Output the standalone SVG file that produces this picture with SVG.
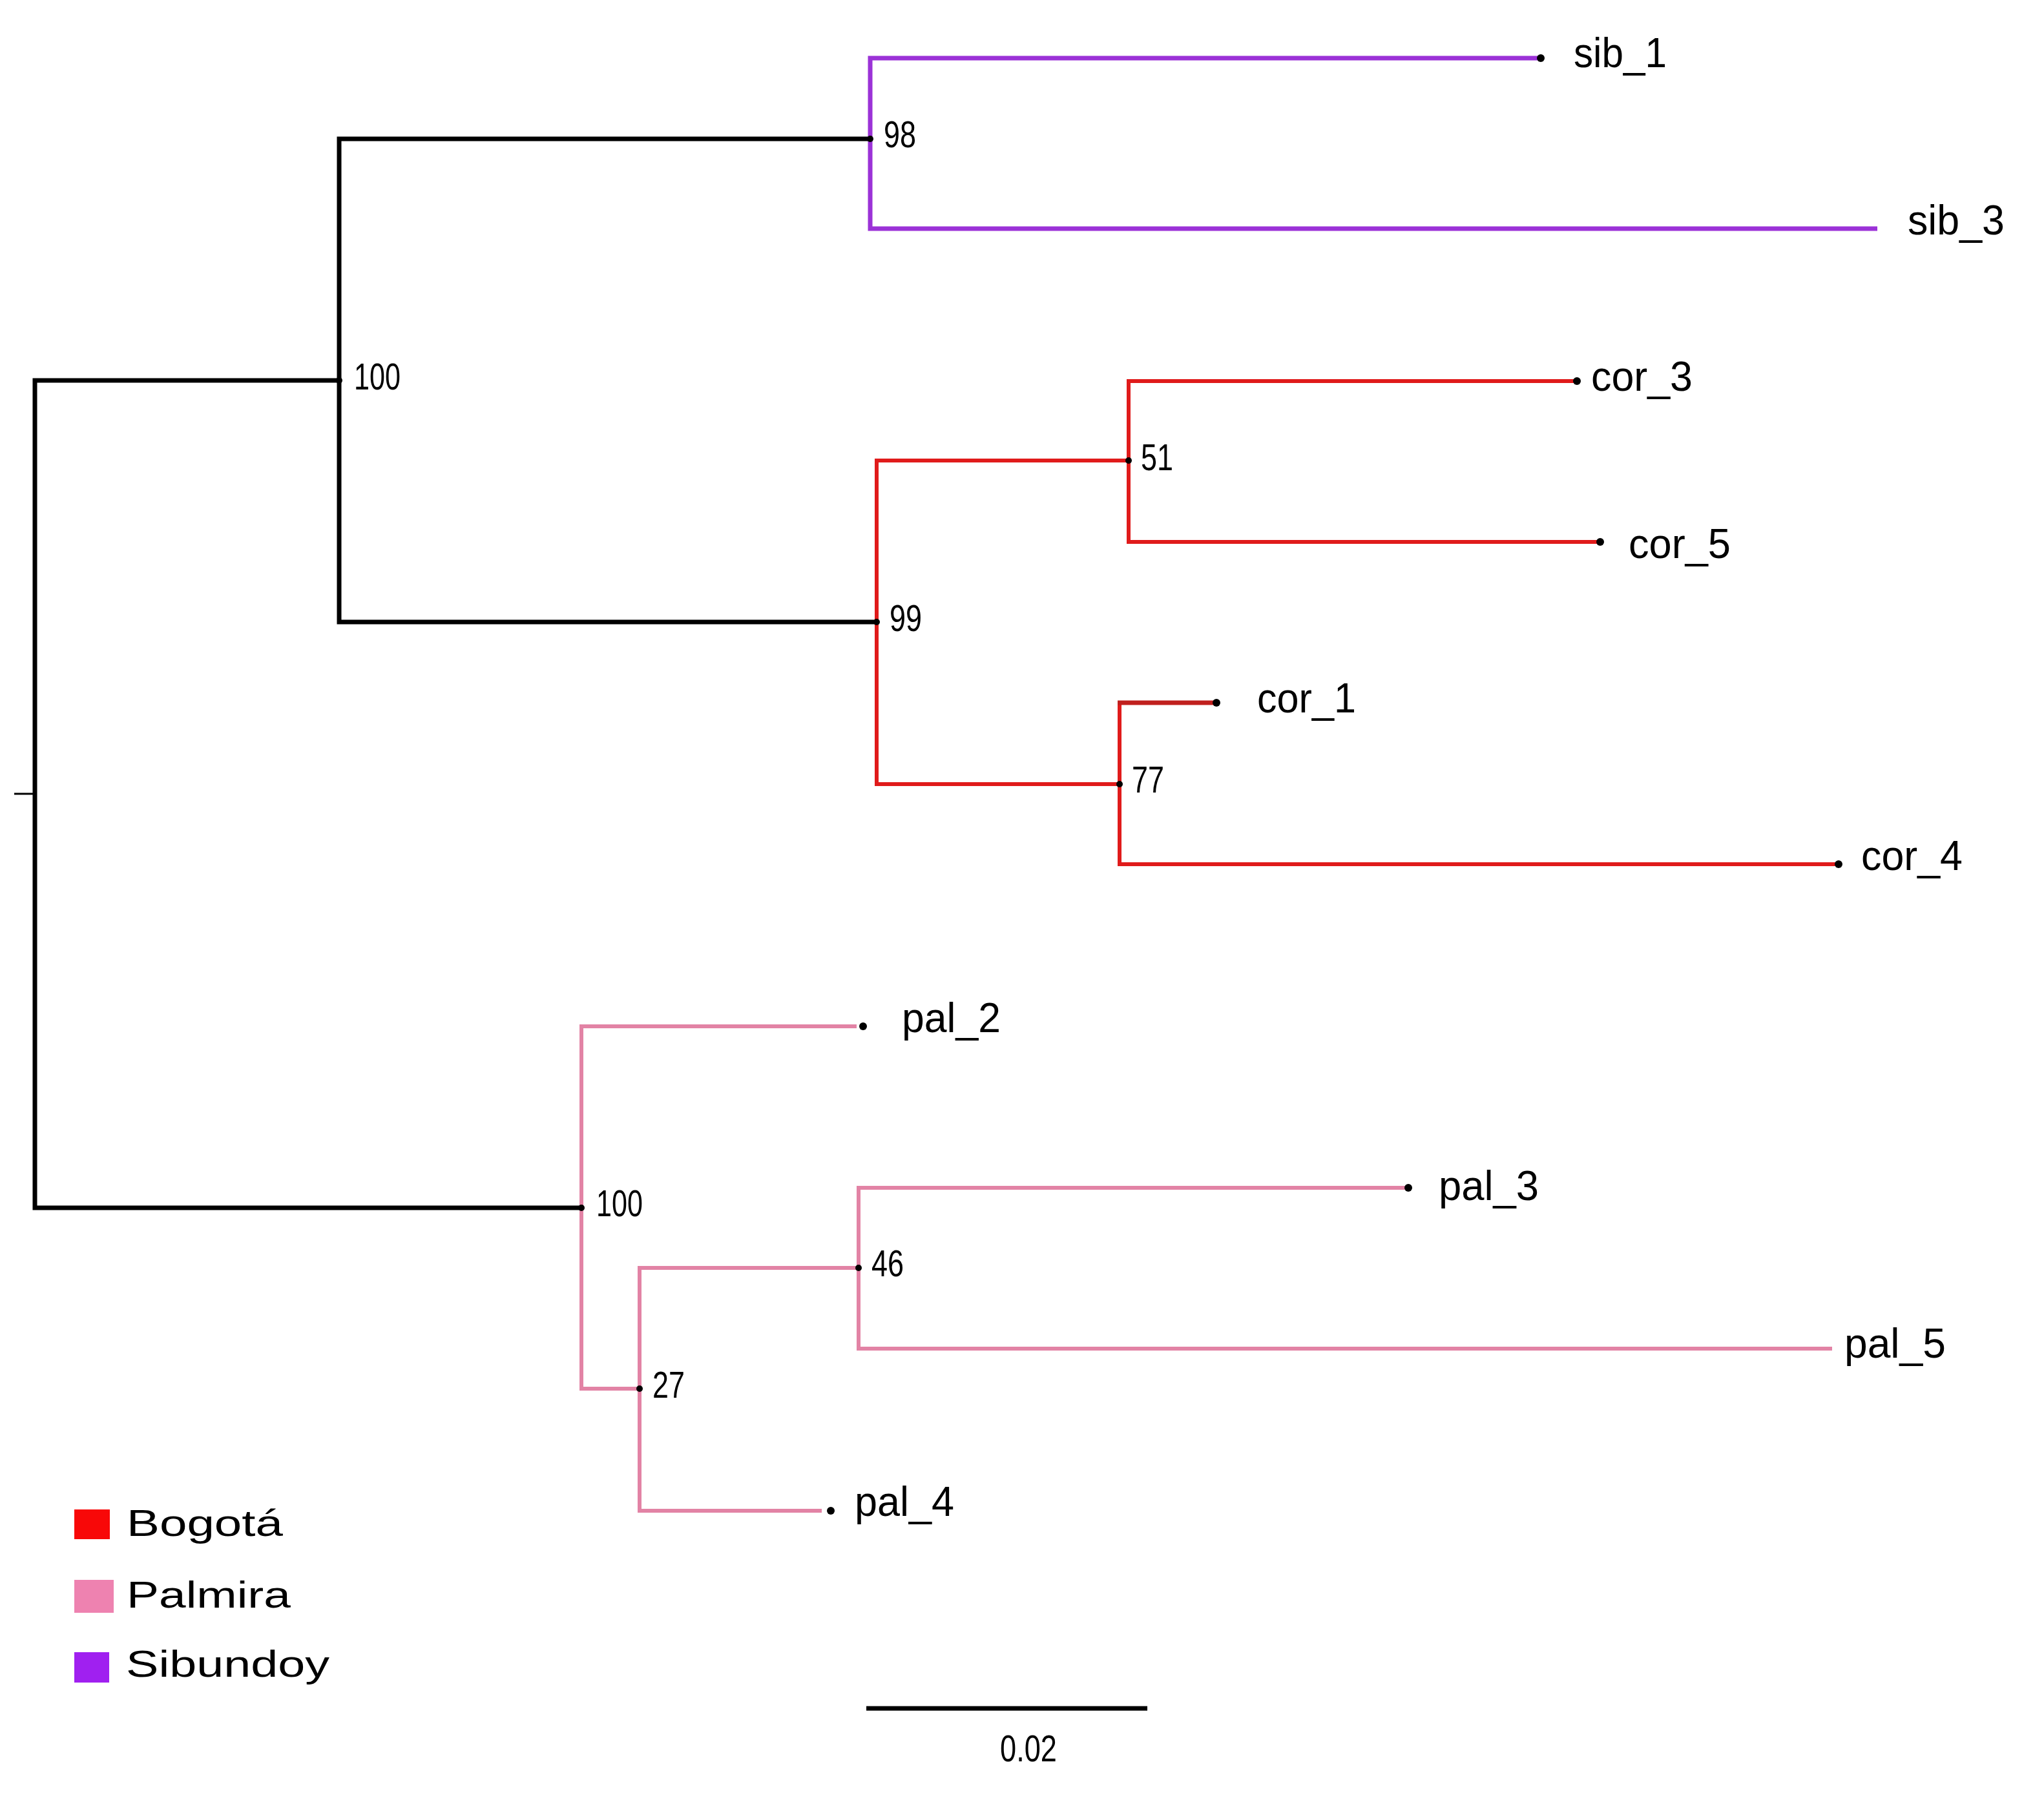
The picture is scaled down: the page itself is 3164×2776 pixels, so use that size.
<svg xmlns="http://www.w3.org/2000/svg" width="3164" height="2776" viewBox="0 0 3164 2776">
<style>
.br{fill:none;stroke-linejoin:miter;stroke-linecap:butt}
.k{stroke:#000;stroke-width:7}
.pu{stroke:#9B32D7;stroke-width:7}
.rd{stroke:#E01B1B;stroke-width:6}
.rd2{stroke:#C0201E;stroke-width:7}
.pk{stroke:#E283A5;stroke-width:6}
.dot{fill:#000}
text{font-family:"Liberation Sans",Arial,sans-serif;fill:#000}
.leaf{font-size:65px}
.sup{font-size:58px}
.leg{font-size:58px}
</style>
<rect x="0" y="0" width="3164" height="2776" fill="#fff"/>
<g id="connectors">
<path class="br" stroke="#000" stroke-width="3" d="M22 1229 H54"/>
<path class="br k" d="M525 589 H54 V1870 H900"/>
<path class="br k" d="M1347 215 H525 V963 H1357"/>
<path class="br pu" d="M2385 90 H1347 V354 H2906"/>
<path class="br rd" d="M1747 713 H1357 V1214 H1733"/>
<path class="br rd" d="M2441 590 H1747 V839 H2477"/>
<path class="br rd" d="M1733 1088 V1338 H2846"/>
<path class="br rd2" d="M1730 1088 H1883"/>
<path class="br pk" d="M1326 1589 H900 V2150 H990"/>
<path class="br pk" d="M1329 1963 H990 V2339 H1272"/>
<path class="br pk" d="M2180 1839 H1329 V2088 H2836"/>
</g>
<g id="root"><circle class="dot" cx="54" cy="1229" r="3"/></g>
<g id="node-100a"><circle class="dot" cx="525" cy="589" r="5"/><text class="sup" x="548" y="603" textLength="72" lengthAdjust="spacingAndGlyphs">100</text></g>
<g id="node-98"><circle class="dot" cx="1347" cy="215" r="5"/><text class="sup" x="1368" y="228" textLength="50" lengthAdjust="spacingAndGlyphs">98</text></g>
<g id="node-99"><circle class="dot" cx="1357" cy="963" r="5"/><text class="sup" x="1377" y="977" textLength="50" lengthAdjust="spacingAndGlyphs">99</text></g>
<g id="node-51"><circle class="dot" cx="1747" cy="713" r="5"/><text class="sup" x="1766" y="728" textLength="50" lengthAdjust="spacingAndGlyphs">51</text></g>
<g id="node-77"><circle class="dot" cx="1733" cy="1214" r="5"/><text class="sup" x="1752" y="1227" textLength="50" lengthAdjust="spacingAndGlyphs">77</text></g>
<g id="node-100b"><circle class="dot" cx="900" cy="1870" r="5"/><text class="sup" x="923" y="1883" textLength="72" lengthAdjust="spacingAndGlyphs">100</text></g>
<g id="node-46"><circle class="dot" cx="1329" cy="1963" r="5"/><text class="sup" x="1349" y="1976" textLength="50" lengthAdjust="spacingAndGlyphs">46</text></g>
<g id="node-27"><circle class="dot" cx="990" cy="2150" r="5"/><text class="sup" x="1010" y="2164" textLength="50" lengthAdjust="spacingAndGlyphs">27</text></g>
<g id="leaf-sib_1"><circle class="dot" cx="2385" cy="90" r="6"/><text class="leaf" x="2436" y="104" textLength="144" lengthAdjust="spacingAndGlyphs">sib_1</text></g>
<g id="leaf-sib_3"><text class="leaf" x="2953" y="363" textLength="150" lengthAdjust="spacingAndGlyphs">sib_3</text></g>
<g id="leaf-cor_3"><circle class="dot" cx="2441" cy="590" r="6"/><text class="leaf" x="2463" y="605" textLength="157" lengthAdjust="spacingAndGlyphs">cor_3</text></g>
<g id="leaf-cor_5"><circle class="dot" cx="2477" cy="839" r="6"/><text class="leaf" x="2521" y="864" textLength="158" lengthAdjust="spacingAndGlyphs">cor_5</text></g>
<g id="leaf-cor_1"><circle class="dot" cx="1883" cy="1088" r="6"/><text class="leaf" x="1946" y="1103" textLength="153" lengthAdjust="spacingAndGlyphs">cor_1</text></g>
<g id="leaf-cor_4"><circle class="dot" cx="2846" cy="1338" r="6"/><text class="leaf" x="2881" y="1347" textLength="157" lengthAdjust="spacingAndGlyphs">cor_4</text></g>
<g id="leaf-pal_2"><circle class="dot" cx="1336" cy="1589" r="6"/><text class="leaf" x="1396" y="1598" textLength="153" lengthAdjust="spacingAndGlyphs">pal_2</text></g>
<g id="leaf-pal_3"><circle class="dot" cx="2180" cy="1839" r="6"/><text class="leaf" x="2227" y="1858" textLength="155" lengthAdjust="spacingAndGlyphs">pal_3</text></g>
<g id="leaf-pal_5"><text class="leaf" x="2855" y="2102" textLength="157" lengthAdjust="spacingAndGlyphs">pal_5</text></g>
<g id="leaf-pal_4"><circle class="dot" cx="1286" cy="2339" r="6"/><text class="leaf" x="1323" y="2347" textLength="154" lengthAdjust="spacingAndGlyphs">pal_4</text></g>
<g id="legend">
<rect x="115" y="2337" width="55" height="46" fill="#F80808"/>
<text class="leg" x="196" y="2378" textLength="242" lengthAdjust="spacingAndGlyphs">Bogotá</text>
<rect x="115" y="2446" width="61" height="51" fill="#EE82B0"/>
<text class="leg" x="196" y="2489" textLength="254" lengthAdjust="spacingAndGlyphs">Palmira</text>
<rect x="115" y="2558" width="54" height="47" fill="#A020F0"/>
<text class="leg" x="195" y="2596" textLength="315" lengthAdjust="spacingAndGlyphs">Sibundoy</text>
</g>
<g id="scale-bar">
<path class="br k" d="M1341 2645 H1776"/>
<text class="sup" x="1548" y="2727" textLength="88" lengthAdjust="spacingAndGlyphs">0.02</text>
</g>
</svg>
